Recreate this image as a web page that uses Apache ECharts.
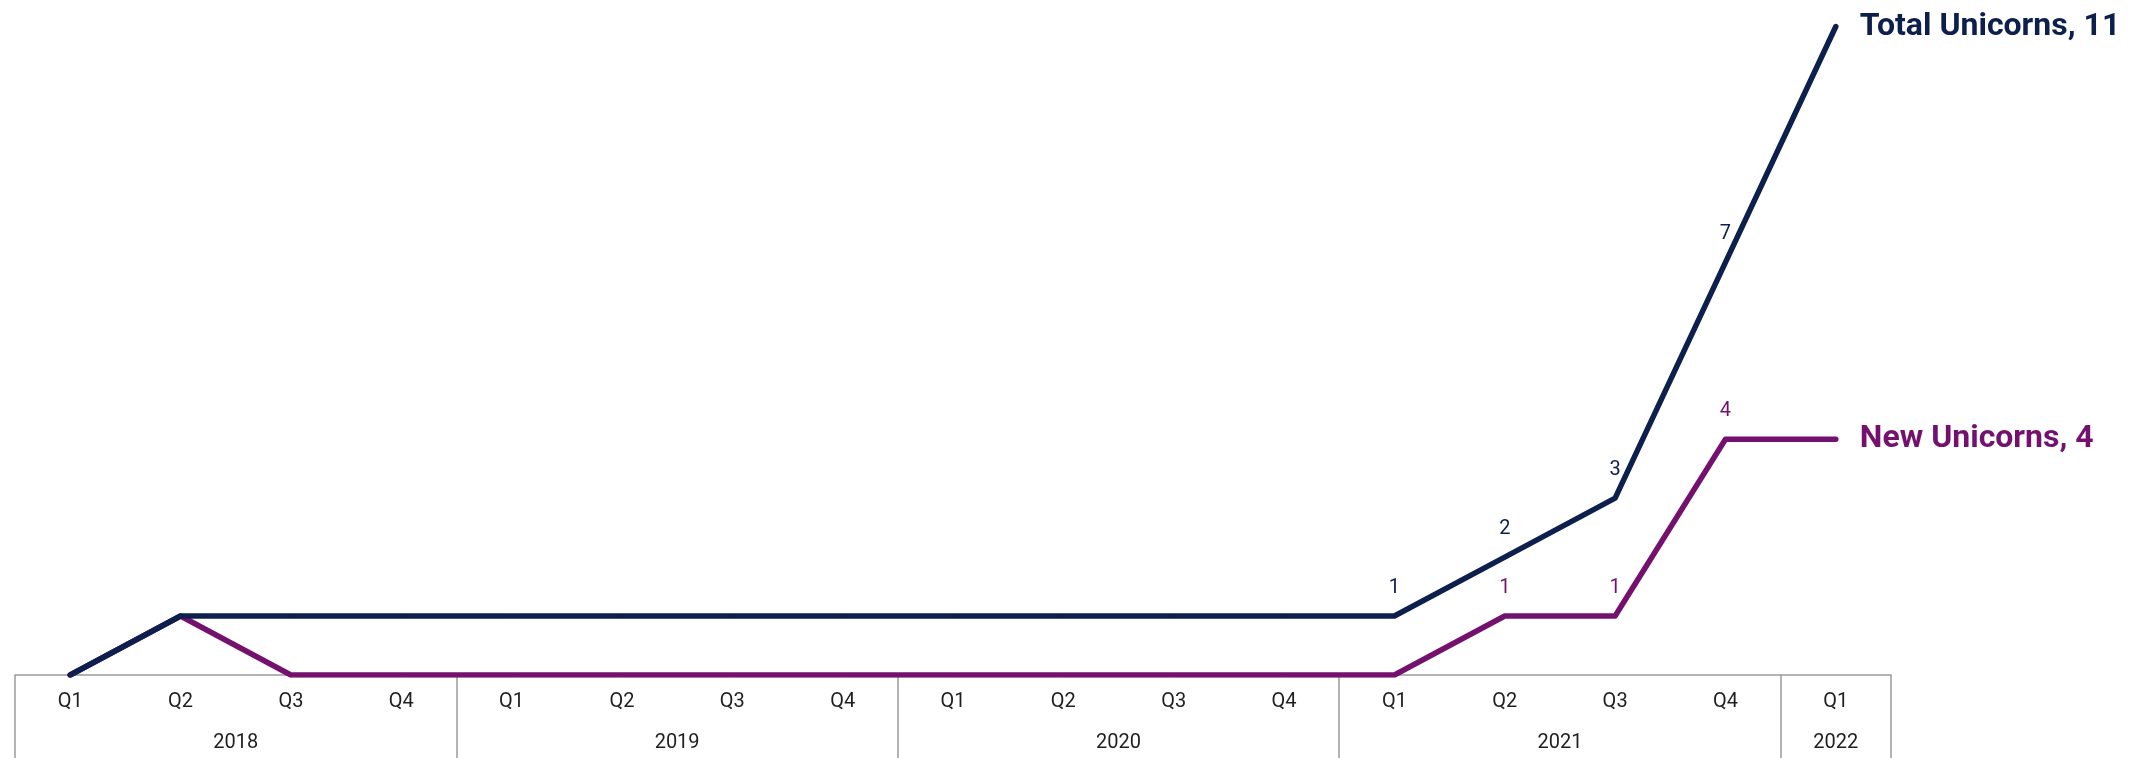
<!DOCTYPE html>
<html>
<head>
<meta charset="utf-8">
<script src="https://cdn.jsdelivr.net/npm/echarts@6/dist/echarts.min.js"></script>
<style>
  html, body { margin: 0; padding: 0; background: #ffffff; }
  #chart { width: 2144px; height: 758px; }
</style>
</head>
<body>
<div id="chart"></div>
<script>
// ---- data ----
const quarters = ['Q1','Q2','Q3','Q4','Q1','Q2','Q3','Q4','Q1','Q2','Q3','Q4','Q1','Q2','Q3','Q4','Q1'];
const years = ['2018','2019','2020','2021','2022'];
const quartersPerYear = [4, 4, 4, 4, 1];
const totalUnicorns = [0, 1, 1, 1, 1, 1, 1, 1, 1, 1, 1, 1, 1, 2, 3, 7, 11];
const newUnicorns   = [0, 1, 0, 0, 0, 0, 0, 0, 0, 0, 0, 0, 0, 1, 1, 4, 4];
const totalLabelIdx = [12, 13, 14, 15];
const newLabelIdx = [13, 14, 15];
const seriesNames = ['Total Unicorns', 'New Unicorns'];

// ---- derived axis helpers ----
const yearBounds = [0];
quartersPerYear.forEach(n => yearBounds.push(yearBounds[yearBounds.length - 1] + n));
const yearCenters = years.map((y, i) => (yearBounds[i] + yearBounds[i + 1]) / 2);

const NAVY = '#0c1f4d';
const PURPLE = '#74116e';
const FONT = 'Roboto';

function buildData(values, labelIdx) {
  return values.map((v, i) => labelIdx.indexOf(i) >= 0 ? { value: v, label: { show: true } } : v);
}

function lineSeries(name, values, labelIdx, color) {
  return {
    name: name,
    type: 'line',
    data: buildData(values, labelIdx),
    xAxisIndex: 0,
    symbol: 'circle',
    symbolSize: 1,
    itemStyle: { color: color },
    lineStyle: { color: color, width: 5.5, cap: 'round', join: 'round' },
    label: { show: false, position: 'top', distance: 18, color: color, fontSize: 20, fontFamily: FONT },
    endLabel: {
      show: true,
      formatter: p => p.seriesName + ', ' + p.value,
      color: color,
      fontSize: 32,
      fontWeight: 'bold',
      fontFamily: FONT,
      distance: 24
    },
    emphasis: { disabled: true },
    animation: false
  };
}

const chart = echarts.init(document.getElementById('chart'), null, { renderer: 'canvas' });
chart.setOption({
  animation: false,
  grid: { left: 15, right: 253, top: 0, bottom: 83, containLabel: false },
  xAxis: [
    {
      type: 'category',
      data: quarters,
      position: 'bottom',
      boundaryGap: true,
      axisLine: { show: true, lineStyle: { color: '#9a9a9a', width: 1.5 } },
      axisTick: { show: false },
      axisLabel: { color: '#1f1f1f', fontSize: 20, fontFamily: FONT, margin: 17, interval: 0 },
      splitLine: { show: false }
    },
    {
      type: 'value',
      min: 0,
      max: quarters.length,
      position: 'bottom',
      offset: 0,
      axisLine: { show: false },
      axisTick: {
        show: true,
        customValues: yearBounds,
        length: 83,
        inside: false,
        lineStyle: { color: '#9a9a9a', width: 1.5 }
      },
      axisLabel: {
        show: true,
        customValues: yearCenters,
        formatter: v => {
          const i = yearCenters.findIndex(c => Math.abs(c - v) < 1e-6);
          return i >= 0 ? years[i] : '';
        },
        color: '#1f1f1f',
        fontSize: 20,
        fontFamily: FONT,
        margin: 58
      },
      splitLine: { show: false }
    }
  ],
  yAxis: {
    type: 'value',
    min: 0,
    max: 11.45,
    show: false,
    splitLine: { show: false }
  },
  series: [
    lineSeries(seriesNames[1], newUnicorns, newLabelIdx, PURPLE),
    lineSeries(seriesNames[0], totalUnicorns, totalLabelIdx, NAVY)
  ]
});
</script>
</body>
</html>
